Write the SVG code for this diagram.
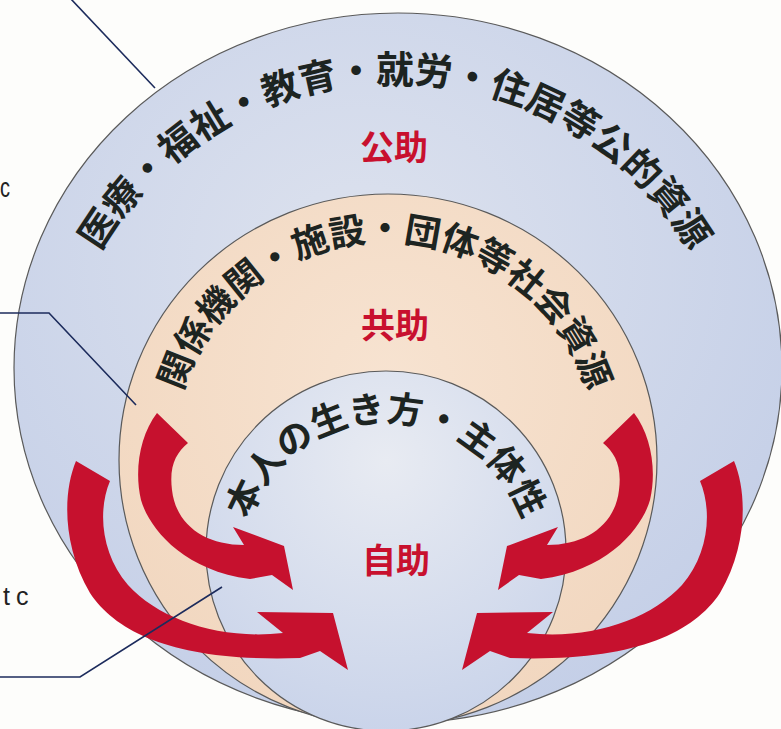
<svg xmlns="http://www.w3.org/2000/svg" width="781" height="729" viewBox="0 0 781 729">
  <defs>
    <radialGradient id="gOuter" cx="0.45" cy="0.35" r="0.7">
      <stop offset="0" stop-color="#dde2ee"/>
      <stop offset="1" stop-color="#c3cee7"/>
    </radialGradient>
    <radialGradient id="gMid" cx="0.5" cy="0.35" r="0.7">
      <stop offset="0" stop-color="#f7e3d1"/>
      <stop offset="1" stop-color="#f1d6be"/>
    </radialGradient>
    <radialGradient id="gInner" cx="0.5" cy="0.25" r="0.75">
      <stop offset="0" stop-color="#e8ebf2"/>
      <stop offset="1" stop-color="#cad4ea"/>
    </radialGradient>
    <path id="arcOuter" d="M 52.4 425 A 342.6 342.6 0 0 1 737.6 425"/>
    <path id="arcMid" d="M 172.7 454 A 212.3 212.3 0 0 1 597.3 454"/>
    <path id="arcInner" d="M 241.7 566 A 144.3 144.3 0 0 1 530.3 566"/>
    <path id="arrowInner" d="M 157 413 C 140 435 134 470 141 500 C 148 525 180 570 250 579 L 272 575 L 293 590 L 284 546 L 233 527 L 244 545 C 205 545 176 525 172 490 C 169 466 176 453 188 443 Z"/>
    <path id="arrowOuter" d="M 76 461 C 63 492 62 545 90 593 C 118 635 180 662 300 658 L 320 651 L 348 670 L 333 613 L 257 612 L 283 633 C 220 640 160 620 128 585 C 102 555 97 512 110 481 Z"/>
  </defs>
  <style>
    .disc { stroke: #5a5a5a; stroke-width: 1.2; }
    .arc { font-family: "Noto Sans CJK JP", "Noto Sans CJK SC", sans-serif; font-weight: 700; fill: #1d2421; }
    .lbl { font-family: "Noto Sans CJK JP", "Noto Sans CJK SC", sans-serif; font-weight: 700; font-size: 34px; fill: #c8102e; text-anchor: middle; }
    .arrow { fill: #c6112e; }
    .leader { fill: none; stroke: #1c2b5c; stroke-width: 1.6; }
    .side { font-family: "Liberation Sans", Arial, sans-serif; fill: #222; }
  </style>
  <rect x="0" y="0" width="781" height="729" fill="#fdfdfb"/>

  <g id="node-public">
    <ellipse class="disc" cx="398" cy="368" rx="384" ry="355" fill="url(#gOuter)"/>
    <text class="arc" font-size="37.5"><textPath href="#arcOuter" startOffset="50%" text-anchor="middle">医療・福祉・教育・就労・住居等公的資源</textPath></text>
    <text class="lbl" x="394" y="160">公助</text>
  </g>

  <g id="node-mutual">
    <ellipse class="disc" cx="388" cy="460" rx="269" ry="266" fill="url(#gMid)"/>
    <text class="arc" font-size="36"><textPath href="#arcMid" startOffset="50%" text-anchor="middle">関係機関・施設・団体等社会資源</textPath></text>
    <text class="lbl" x="395" y="338">共助</text>
  </g>

  <g id="node-self">
    <circle class="disc" cx="386" cy="551" r="180" fill="url(#gInner)"/>
    <text class="arc" font-size="36"><textPath href="#arcInner" startOffset="50%" text-anchor="middle">本人の生き方・主体性</textPath></text>
    <text class="lbl" x="396" y="573">自助</text>
  </g>

  <g id="arrows">
    <use href="#arrowOuter" class="arrow"/>
    <use href="#arrowOuter" class="arrow" transform="translate(810,0) scale(-1,1)"/>
    <use href="#arrowInner" class="arrow"/>
    <use href="#arrowInner" class="arrow" transform="translate(791,0) scale(-1,1)"/>
  </g>

  <g id="connectors">
    <polyline class="leader" points="70,-2 155,88"/>
    <polyline class="leader" points="0,313 49,313 136,405"/>
    <polyline class="leader" points="0,677 80,677 222,587"/>
  </g>

  <g id="side-labels">
    <text class="side" x="0" y="197" font-size="27" textLength="10" lengthAdjust="spacingAndGlyphs">c</text>
    <text class="side" x="3 16" y="605" font-size="25">tc</text>
  </g>
</svg>
